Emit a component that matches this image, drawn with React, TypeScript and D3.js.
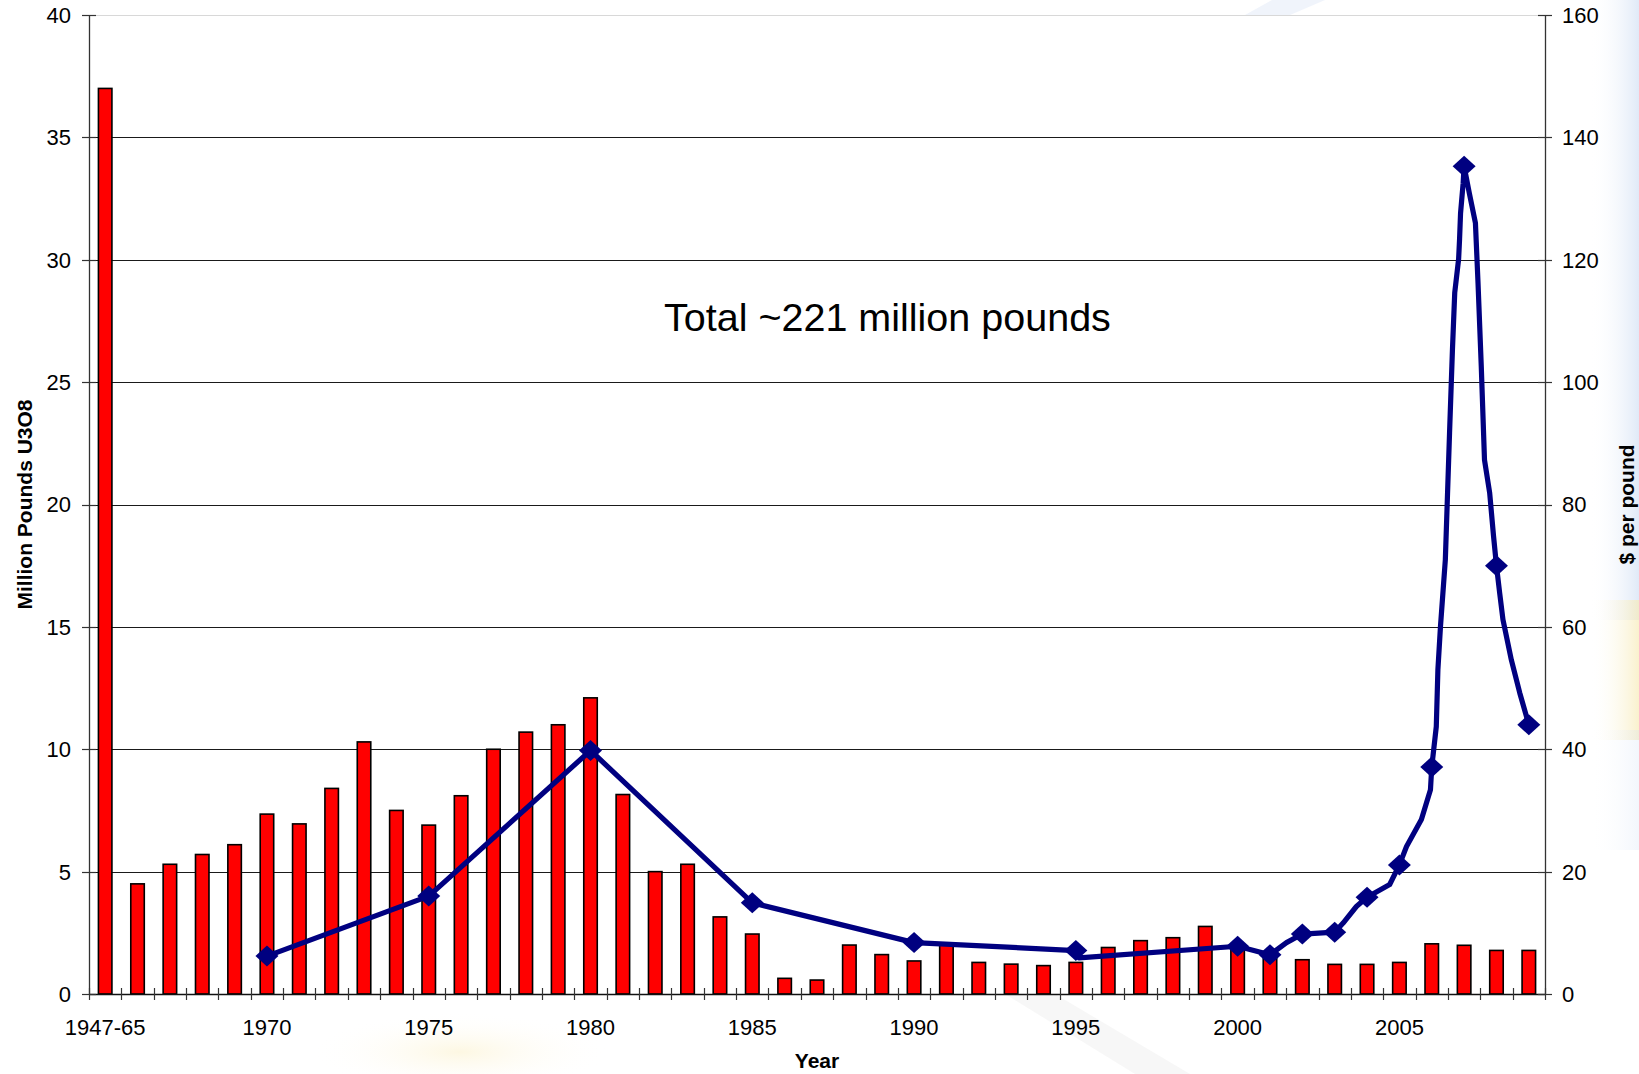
import React from "react";
import * as d3 from "d3";

// Annual U3O8 production (million pounds); first bar is the 1947-65 cumulative total
const categories = [
  "1947-65", "1966", "1967", "1968", "1969", "1970", "1971", "1972", "1973", "1974",
  "1975", "1976", "1977", "1978", "1979", "1980", "1981", "1982", "1983", "1984",
  "1985", "1986", "1987", "1988", "1989", "1990", "1991", "1992", "1993", "1994",
  "1995", "1996", "1997", "1998", "1999", "2000", "2001", "2002", "2003", "2004",
  "2005", "2006", "2007", "2008", "2009",
];
const productionMlb = [
  37.0, 4.5, 5.3, 5.7, 6.1, 7.35, 6.95, 8.4, 10.3, 7.5,
  6.9, 8.1, 10.0, 10.7, 11.0, 12.1, 8.15, 5.0, 5.3, 3.15,
  2.45, 0.64, 0.57, 2.0, 1.61, 1.35, 2.05, 1.29, 1.22, 1.16,
  1.29, 1.9, 2.18, 2.3, 2.76, 1.9, 1.65, 1.4, 1.21, 1.21,
  1.29, 2.05, 1.99, 1.78, 1.78,
];
const labelledCategories = ["1947-65", "1970", "1975", "1980", "1985", "1990", "1995", "2000", "2005"];

// Uranium price ($ per pound) — annual points carry a marker
const priceYears = [1970, 1975, 1980, 1985, 1990, 1995, 2000, 2001, 2002, 2003, 2004, 2005, 2006, 2007, 2008, 2009];
const priceValues = [6.2, 16.0, 39.8, 14.9, 8.4, 7.1, 7.8, 6.4, 9.8, 10.1, 15.8, 21.1, 37.1, 135.3, 70.0, 44.0];

// Intermediate spot-price readings between the annual points (no marker)
const spotYears = [
  1995.1, 2001.51, 2003.26, 2003.67, 2004.7, 2005.22, 2005.68, 2005.96, 2006.14, 2006.19, 2006.27,
  2006.42, 2006.55, 2006.64, 2006.71, 2006.83, 2006.86, 2006.89, 2006.97, 2007.16, 2007.35,
  2007.43, 2007.53, 2007.63, 2007.79, 2007.91, 2008.1, 2008.2, 2008.46, 2008.72,
];
const spotValues = [
  5.9, 8.4, 11.6, 14.3, 17.9, 24.1, 28.5, 33.4, 43.7, 53.0, 60.1,
  71.0, 91.7, 105.4, 114.6, 120.1, 123.4, 127.6, 132.5, 130.9, 126.0,
  116.2, 102.6, 87.3, 81.9, 74.8, 65.5, 61.2, 54.6, 49.2,
];

const leftTicks = [0, 5, 10, 15, 20, 25, 30, 35, 40];
const rightTicks = [0, 20, 40, 60, 80, 100, 120, 140, 160];

const W = 1639;
const H = 1074;
const plot = { left: 89, right: 1545, top: 15, bottom: 994 };
const FONT = "'Liberation Sans', Arial, Helvetica, sans-serif";

export default function App() {
  const x = d3.scaleBand<string>().domain(categories).range([plot.left, plot.right]).padding(0);
  const bw = x.bandwidth();
  // Price years share the category slots: the "1947-65" slot sits where 1965 would be
  const xYear = d3
    .scaleLinear()
    .domain([1964.5, 1964.5 + categories.length])
    .range([plot.left, plot.right]);
  const yL = d3.scaleLinear().domain([0, 40]).range([plot.bottom, plot.top]);
  const yR = d3.scaleLinear().domain([0, 160]).range([plot.bottom, plot.top]);

  const pricePath: [number, number][] = [
    ...priceYears.map((yr, i) => [yr, priceValues[i]] as [number, number]),
    ...spotYears.map((yr, i) => [yr, spotValues[i]] as [number, number]),
  ].sort((a, b) => a[0] - b[0]);

  const line = d3
    .line<[number, number]>()
    .x((d) => xYear(d[0]))
    .y((d) => yR(d[1]));

  const barW = 13.5;
  const tickLen = 7;
  const boundaries = d3.range(categories.length + 1).map((i) => plot.left + i * bw);

  const diamond = (cx: number, cy: number) =>
    `M${cx},${cy - 10.5}L${cx + 11.5},${cy}L${cx},${cy + 10.5}L${cx - 11.5},${cy}Z`;

  return (
    <svg
      width={W}
      height={H}
      viewBox={`0 0 ${W} ${H}`}
      style={{ position: "absolute", left: 0, top: 0, background: "#fff" }}
      fontFamily={FONT}
    >
      <defs>
        <linearGradient id="edgeBlue" x1="0" y1="0" x2="1" y2="0">
          <stop offset="0" stopColor="#ffffff" stopOpacity="0" />
          <stop offset="1" stopColor="#d3e0f4" stopOpacity="0.7" />
        </linearGradient>
        <linearGradient id="edgeGold" x1="0" y1="0" x2="1" y2="0">
          <stop offset="0" stopColor="#ffffff" stopOpacity="0" />
          <stop offset="1" stopColor="#f7ebb8" stopOpacity="0.7" />
        </linearGradient>
        <radialGradient id="bottomGold" cx="0.5" cy="0.5" r="0.5">
          <stop offset="0" stopColor="#fcf4d6" stopOpacity="0.7" />
          <stop offset="1" stopColor="#ffffff" stopOpacity="0" />
        </radialGradient>
      </defs>

      {/* faint background emblem around the frame */}
      <rect x={1590} y={0} width={49} height={620} fill="url(#edgeBlue)" />
      <rect x={1590} y={600} width={49} height={140} fill="url(#edgeGold)" />
      <rect x={1590} y={730} width={49} height={120} fill="url(#edgeBlue)" opacity={0.4} />
      <path d="M1245,15 L1272,0 L1325,0 L1290,15 Z" fill="#e9eff9" opacity={0.7} />
      <ellipse cx={460} cy={1052} rx={150} ry={40} fill="url(#bottomGold)" />
      <path d="M1005,994 L1055,994 L1190,1074 L1135,1074 Z" fill="#f4f4f4" opacity={0.7} />

      {/* plot area */}
      <rect
        x={plot.left}
        y={plot.top}
        width={plot.right - plot.left}
        height={plot.bottom - plot.top}
        fill="#fff"
      />
      <line x1={plot.left} x2={plot.right} y1={plot.top + 0.5} y2={plot.top + 0.5} stroke="#d8d8d8" strokeWidth={1} />

      {/* horizontal gridlines */}
      {leftTicks
        .filter((t) => t > 0 && t < 40)
        .map((t) => (
          <line
            key={`g${t}`}
            x1={plot.left}
            x2={plot.right}
            y1={Math.round(yL(t)) + 0.5}
            y2={Math.round(yL(t)) + 0.5}
            stroke="#1a1a1a"
            strokeWidth={1}
          />
        ))}

      {/* production bars */}
      {categories.map((c, i) => {
        const v = productionMlb[i];
        return (
          <rect
            key={c}
            x={(x(c) as number) + bw / 2 - barW / 2}
            y={yL(v)}
            width={barW}
            height={yL(0) - yL(v)}
            fill="#ff0000"
            stroke="#000"
            strokeWidth={1.6}
          />
        );
      })}

      {/* axes */}
      <line x1={plot.left + 0.5} x2={plot.left + 0.5} y1={plot.top} y2={plot.bottom} stroke="#333" strokeWidth={1.3} />
      <line x1={plot.right + 0.5} x2={plot.right + 0.5} y1={plot.top} y2={plot.bottom} stroke="#333" strokeWidth={1.3} />
      <line x1={plot.left} x2={plot.right} y1={plot.bottom + 0.5} y2={plot.bottom + 0.5} stroke="#111" strokeWidth={1.3} />

      {leftTicks.map((t) => (
        <g key={`l${t}`}>
          <line
            x1={plot.left - tickLen}
            x2={plot.left + tickLen}
            y1={Math.round(yL(t)) + 0.5}
            y2={Math.round(yL(t)) + 0.5}
            stroke="#333"
            strokeWidth={1.2}
          />
          <text x={71} y={yL(t)} dy="0.36em" textAnchor="end" fontSize={22} fill="#000">
            {t}
          </text>
        </g>
      ))}

      {rightTicks.map((t) => (
        <g key={`r${t}`}>
          <line
            x1={plot.right - tickLen}
            x2={plot.right + tickLen}
            y1={Math.round(yR(t)) + 0.5}
            y2={Math.round(yR(t)) + 0.5}
            stroke="#333"
            strokeWidth={1.2}
          />
          <text x={1562} y={yR(t)} dy="0.36em" textAnchor="start" fontSize={22} fill="#000">
            {t}
          </text>
        </g>
      ))}

      {boundaries.map((bx, i) => (
        <line
          key={`b${i}`}
          x1={Math.round(bx) + 0.5}
          x2={Math.round(bx) + 0.5}
          y1={plot.bottom - 6}
          y2={plot.bottom + 6}
          stroke="#333"
          strokeWidth={1.2}
        />
      ))}

      {labelledCategories.map((c) => (
        <text
          key={`x${c}`}
          x={(x(c) as number) + bw / 2}
          y={1035}
          textAnchor="middle"
          fontSize={22}
          fill="#000"
        >
          {c}
        </text>
      ))}

      {/* price line */}
      <path
        d={line(pricePath) ?? ""}
        fill="none"
        stroke="#000080"
        strokeWidth={5.2}
        strokeLinejoin="round"
        strokeLinecap="round"
      />
      {priceYears.map((yr, i) => (
        <path key={`m${yr}`} d={diamond(xYear(yr), yR(priceValues[i]))} fill="#000080" />
      ))}

      {/* annotation and titles */}
      <text x={664} y={331} fontSize={39.5} fill="#000">
        Total ~221 million pounds
      </text>
      <text
        transform={`translate(32, ${(plot.top + plot.bottom) / 2}) rotate(-90)`}
        textAnchor="middle"
        fontSize={21}
        fontWeight="bold"
        fill="#000"
      >
        Million Pounds U3O8
      </text>
      <text
        transform={`translate(1634, ${(plot.top + plot.bottom) / 2}) rotate(-90)`}
        textAnchor="middle"
        fontSize={21}
        fontWeight="bold"
        fill="#000"
      >
        $ per pound
      </text>
      <text x={(plot.left + plot.right) / 2} y={1068} textAnchor="middle" fontSize={21} fontWeight="bold" fill="#000">
        Year
      </text>
    </svg>
  );
}
